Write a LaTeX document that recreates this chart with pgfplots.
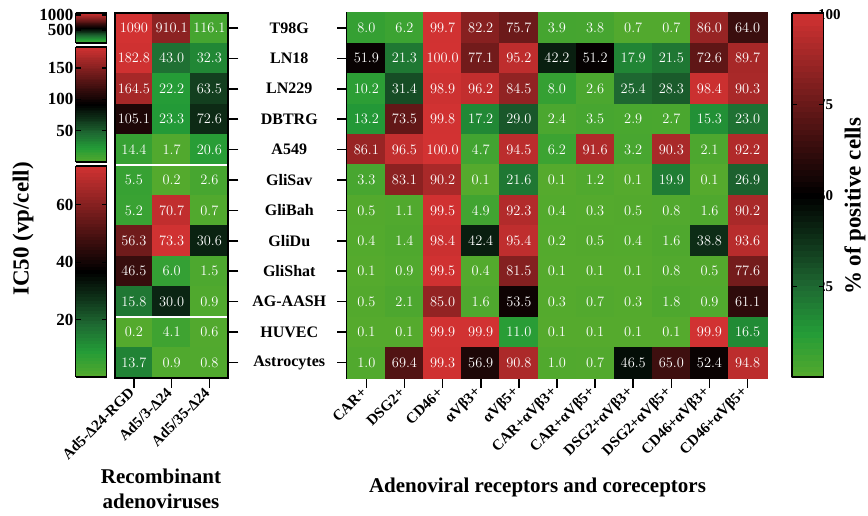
\documentclass[border=0pt]{standalone}
\usepackage{pgfplots}
\usepackage{pgfplotstable}
\pgfplotsset{compat=1.18}
\usepackage{fontspec}
\setmainfont{Liberation Serif}
\newcommand\cellfont{\fontsize{14}{14}\selectfont}
\newcommand\tickfont{\bfseries\fontsize{17}{17}\selectfont}
\newcommand\rtickfont{\bfseries\fontsize{15}{15}\selectfont}
\newcommand\rowfont{\bfseries\fontsize{16}{16}\selectfont}
\newcommand\colfont{\bfseries\fontsize{15}{15}\selectfont}
\newcommand\labfont{\bfseries\fontsize{21}{25}\selectfont}
\newcommand\vlabfont{\bfseries\fontsize{23}{23}\selectfont}
\pgfdeclareplotmark{hmcell}{%
  \pgfsetlinewidth{0.4pt}%
  \pgfpathrectangle{\pgfpoint{-19.2pt}{-15.35pt}}{\pgfpoint{38.4pt}{30.7pt}}%
  \pgfusepathqfillstroke}
\pgfplotsset{
  colormap={gbr}{rgb255=(85,170,45) rgb255=(35,155,55) rgb255=(30,105,50) rgb255=(15,50,25) rgb255=(0,0,0) rgb255=(52,12,12) rgb255=(105,25,25) rgb255=(158,38,38) rgb255=(210,50,50)},
  myhmcells/.style={scatter, only marks, mark=hmcell, point meta=explicit,
    scatter/use mapped color={draw=mapped color, fill=mapped color}},
  myhmtext/.style={draw=none, mark=none, point meta=explicit,
    nodes near coords={\pgfmathprintnumber[fixed,precision=1,zerofill,1000 sep={}]{\pgfplotspointmeta}},
    every node near coord/.append style={anchor=center, text=white, font=\cellfont, inner sep=0pt}},
  myhmleft/.style={scale only axis, width=113.3pt, height=365pt, at={(115pt,137.3pt)}, anchor=south west,
    xmin=-0.5, xmax=2.5, ymin=-0.5, ymax=11.5, y dir=reverse, hide axis, colormap name=gbr},
  myhmbar/.style={width=31pt, anchor=north east, samples=64,
    xtick=\empty,
    axis line style={line width=1.8pt}, tick align=inside, ytick pos=both, yticklabel pos=left,
    major tick length=5pt, tick style={line width=1.2pt, black},
    yticklabel style={font=\tickfont, inner sep=2pt},
    /pgf/number format/assume math mode=true, /pgf/number format/1000 sep={}},
}
\pgfplotstableread{
x y v
0 0 1090
1 0 910.1
2 0 116.1
}\Aone
\pgfplotstableread{
x y v
0 1 182.8
1 1 43.0
2 1 32.3
0 2 164.5
1 2 22.2
2 2 63.5
0 3 105.1
1 3 23.3
2 3 72.6
0 4 14.4
1 4 1.7
2 4 20.6
}\Atwo
\pgfplotstableread{
x y v
0 5 5.5
1 5 0.2
2 5 2.6
0 6 5.2
1 6 70.7
2 6 0.7
0 7 56.3
1 7 73.3
2 7 30.6
0 8 46.5
1 8 6.0
2 8 1.5
0 9 15.8
1 9 30.0
2 9 0.9
0 10 0.2
1 10 4.1
2 10 0.6
0 11 13.7
1 11 0.9
2 11 0.8
}\Athree
\pgfplotstableread{
x y v
0 0 8.0
1 0 6.2
2 0 99.7
3 0 82.2
4 0 75.7
5 0 3.9
6 0 3.8
7 0 0.7
8 0 0.7
9 0 86.0
10 0 64.0
0 1 51.9
1 1 21.3
2 1 100.0
3 1 77.1
4 1 95.2
5 1 42.2
6 1 51.2
7 1 17.9
8 1 21.5
9 1 72.6
10 1 89.7
0 2 10.2
1 2 31.4
2 2 98.9
3 2 96.2
4 2 84.5
5 2 8.0
6 2 2.6
7 2 25.4
8 2 28.3
9 2 98.4
10 2 90.3
0 3 13.2
1 3 73.5
2 3 99.8
3 3 17.2
4 3 29.0
5 3 2.4
6 3 3.5
7 3 2.9
8 3 2.7
9 3 15.3
10 3 23.0
0 4 86.1
1 4 96.5
2 4 100.0
3 4 4.7
4 4 94.5
5 4 6.2
6 4 91.6
7 4 3.2
8 4 90.3
9 4 2.1
10 4 92.2
0 5 3.3
1 5 83.1
2 5 90.2
3 5 0.1
4 5 21.6
5 5 0.1
6 5 1.2
7 5 0.1
8 5 19.9
9 5 0.1
10 5 26.9
0 6 0.5
1 6 1.1
2 6 99.5
3 6 4.9
4 6 92.3
5 6 0.4
6 6 0.3
7 6 0.5
8 6 0.8
9 6 1.6
10 6 90.2
0 7 0.4
1 7 1.4
2 7 98.4
3 7 42.4
4 7 95.4
5 7 0.2
6 7 0.5
7 7 0.4
8 7 1.6
9 7 38.8
10 7 93.6
0 8 0.1
1 8 0.9
2 8 99.5
3 8 0.4
4 8 81.5
5 8 0.1
6 8 0.1
7 8 0.1
8 8 0.8
9 8 0.5
10 8 77.6
0 9 0.5
1 9 2.1
2 9 85.0
3 9 1.6
4 9 53.5
5 9 0.3
6 9 0.7
7 9 0.3
8 9 1.8
9 9 0.9
10 9 61.1
0 10 0.1
1 10 0.1
2 10 99.9
3 10 99.9
4 10 11.0
5 10 0.1
6 10 0.1
7 10 0.1
8 10 0.1
9 10 99.9
10 10 16.5
0 11 1.0
1 11 69.4
2 11 99.3
3 11 56.9
4 11 90.8
5 11 1.0
6 11 0.7
7 11 46.5
8 11 65.0
9 11 52.4
10 11 94.8
}\Right
\begin{document}
\begin{tikzpicture}
\useasboundingbox (0,0) rectangle (868pt,515pt);
% colour bars
\pgfplotscolorbardrawstandalone[colorbar sampled, colormap name=gbr, point meta min=77, point meta max=1077,
  colorbar style={myhmbar, at={(98pt,502.3pt)}, height=30pt, ytick={500,1000}}]
\pgfplotscolorbardrawstandalone[colorbar sampled, colormap name=gbr, point meta min=0, point meta max=184,
  colorbar style={myhmbar, at={(98pt,468.3pt)}, height=115pt, ytick={50,100,150}}]
\pgfplotscolorbardrawstandalone[colorbar sampled, colormap name=gbr, point meta min=0, point meta max=73.6,
  colorbar style={myhmbar, at={(98pt,349.3pt)}, height=211.3pt, ytick={20,40,60}}]
\pgfplotscolorbardrawstandalone[colorbar sampled, colormap name=gbr, point meta min=0, point meta max=100,
  colorbar style={myhmbar, width=31.7pt, height=364pt, at={(783.3pt,501.7pt)}, anchor=north west,
    ytick={25,50,75,100}, yticklabels={}}]
\node[anchor=west, font=\rtickfont, inner sep=0pt] at (818pt,500pt) {100};
\node[anchor=west, font=\rtickfont, inner sep=0pt] at (818pt,410.7pt) {75};
\node[anchor=west, font=\rtickfont, inner sep=0pt] at (818pt,319.7pt) {50};
\node[anchor=west, font=\rtickfont, inner sep=0pt] at (818pt,228.7pt) {25};
% left heatmap, group 1 (T98G)
\begin{axis}[myhmleft, point meta min=77, point meta max=1077]
\addplot[myhmcells] table[x=x, y=y, meta=v]{\Aone};
\addplot[myhmtext, nodes near coords={\pgfmathprintnumber[fixed,precision=1,1000 sep={}]{\pgfplotspointmeta}}] table[x=x, y=y, meta=v]{\Aone};
\end{axis}
% left heatmap, group 2
\begin{axis}[myhmleft, point meta min=0, point meta max=184]
\addplot[myhmcells] table[x=x, y=y, meta=v]{\Atwo};
\addplot[myhmtext] table[x=x, y=y, meta=v]{\Atwo};
\end{axis}
% left heatmap, group 3
\begin{axis}[myhmleft, point meta min=0, point meta max=73.6]
\addplot[myhmcells] table[x=x, y=y, meta=v]{\Athree};
\addplot[myhmtext] table[x=x, y=y, meta=v]{\Athree};
\end{axis}
% left frame
\begin{axis}[scale only axis, width=113.3pt, height=365pt, at={(115pt,137.3pt)}, anchor=south west,
  xmin=-0.5, xmax=2.5, ymin=-0.5, ymax=11.5, y dir=reverse, axis on top,
  axis line style={line width=2pt}, tick style={line width=1.6pt, black}, major tick length=10pt, tick align=outside,
  xtick={0,1,2}, xticklabels={Ad5-Δ24-RGD, Ad5/3-Δ24, Ad5/35-Δ24},
  xtick pos=left, xticklabel style={rotate=45, anchor=east, font=\colfont},
  ytick={0,...,11}, yticklabels={}, ytick pos=right]
\draw[white, line width=2.4pt] (axis cs:-0.5,4.5) -- (axis cs:2.5,4.5);
\draw[white, line width=2.4pt] (axis cs:-0.5,9.5) -- (axis cs:2.5,9.5);
\end{axis}
% right heatmap
\begin{axis}[scale only axis, width=419.4pt, height=365pt, at={(347.3pt,137.3pt)}, anchor=south west,
  xmin=-0.5, xmax=10.5, ymin=-0.5, ymax=11.5, y dir=reverse, axis on top,
  colormap name=gbr, point meta min=0, point meta max=100,
  axis line style={line width=2pt}, tick style={line width=1.6pt, black}, major tick length=10pt, tick align=outside,
  xtick={0,...,10},
  xticklabels={CAR+, DSG2+, CD46+, αVβ3+, αVβ5+, CAR+αVβ3+, CAR+αVβ5+, DSG2+αVβ3+, DSG2+αVβ5+, CD46+αVβ3+, CD46+αVβ5+},
  xtick pos=left, xticklabel style={rotate=45, anchor=east, font=\colfont},
  ytick={0,...,11},
  yticklabels={T98G, LN18, LN229, DBTRG, A549, GliSav, GliBah, GliDu, GliShat, AG-AASH, HUVEC, Astrocytes},
  ytick pos=left, yticklabel style={font=\rowfont, text width=89pt, align=center}]
\addplot[myhmcells] table[x=x, y=y, meta=v]{\Right};
\addplot[myhmtext] table[x=x, y=y, meta=v]{\Right};
\draw[white, line width=2.4pt] (axis cs:-0.5,4.5) -- (axis cs:10.5,4.5);
\draw[white, line width=2.4pt] (axis cs:-0.5,9.5) -- (axis cs:10.5,9.5);
\draw[white, line width=2.4pt] (axis cs:4.5,-0.5) -- (axis cs:4.5,11.5);
\end{axis}
\node[rotate=90, font=\vlabfont] at (23pt,286pt) {IC50 (vp/cell)};
\node[rotate=90, font=\vlabfont] at (855pt,308.5pt) {\% of positive cells};
\node[align=center, font=\labfont] at (161pt,26pt) {Recombinant\\adenoviruses};
\node[font=\labfont] at (537.5pt,28pt) {Adenoviral receptors and coreceptors};
\end{tikzpicture}
\end{document}
